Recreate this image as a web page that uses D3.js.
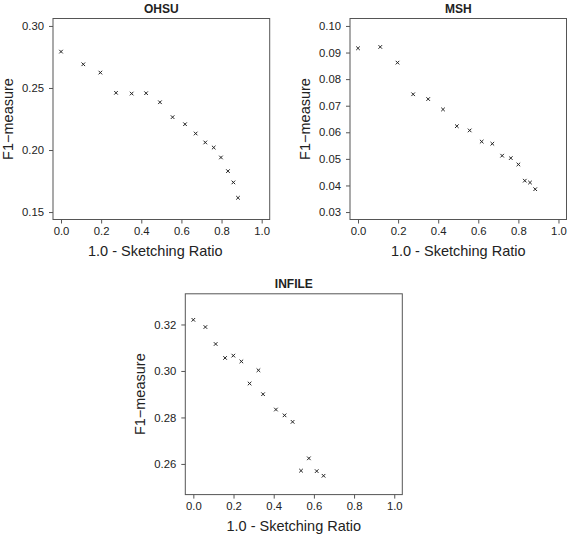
<!DOCTYPE html>
<html>
<head>
<meta charset="utf-8">
<script src="https://cdn.jsdelivr.net/npm/d3@7"></script>
<style>
  html, body { margin: 0; padding: 0; background: #fff; }
  svg { display: block; }
  text { font-family: "Liberation Sans", Arial, Helvetica, sans-serif; fill: #222; }
</style>
</head>
<body>
<svg id="chart" width="568" height="538"></svg>
<script>
// ---- data ----
const xTicks = [0.0, 0.2, 0.4, 0.6, 0.8, 1.0];
const xLabel = "1.0 - Sketching Ratio";
const yLabel = "F1\u2212measure";

const ohsuX = [0.000, 0.111, 0.196, 0.274, 0.352, 0.424, 0.493, 0.556, 0.618, 0.671, 0.719, 0.761, 0.797, 0.832, 0.859, 0.882];
const ohsuY = [0.2793, 0.2691, 0.2624, 0.2461, 0.2455, 0.2458, 0.2385, 0.2265, 0.2208, 0.2133, 0.2061, 0.2020, 0.1940, 0.1830, 0.1739, 0.1615];
const ohsuYTicks = [0.15, 0.20, 0.25, 0.30];

const mshX = [0.000, 0.111, 0.197, 0.275, 0.350, 0.424, 0.493, 0.557, 0.617, 0.670, 0.719, 0.762, 0.800, 0.832, 0.858, 0.884];
const mshY = [0.0916, 0.0921, 0.0862, 0.0743, 0.0725, 0.0686, 0.0623, 0.0607, 0.0565, 0.0557, 0.0512, 0.0503, 0.0479, 0.0418, 0.0411, 0.0386];
const mshYTicks = [0.03, 0.04, 0.05, 0.06, 0.07, 0.08, 0.09, 0.10];

const infileX = [0.000, 0.060, 0.111, 0.158, 0.199, 0.239, 0.280, 0.324, 0.347, 0.411, 0.454, 0.494, 0.536, 0.575, 0.614, 0.648];
const infileY = [0.3220, 0.3189, 0.3116, 0.3056, 0.3066, 0.3041, 0.2946, 0.3003, 0.2900, 0.2834, 0.2809, 0.2781, 0.2571, 0.2624, 0.2569, 0.2549];
const infileYTicks = [0.26, 0.28, 0.30, 0.32];

// ---- layout ----
const panels = [
  { title: "OHSU",   xs: ohsuX,   ys: ohsuY,   xlim: [0, 1], ylim: [0.15, 0.30], yTicks: ohsuYTicks,   yFmt: ".2f",
    box: { x0: 53, x1: 269.7, y0: 18.5, y1: 219.5 }, xlabShift: -6 },
  { title: "MSH",    xs: mshX,    ys: mshY,    xlim: [0, 1], ylim: [0.03, 0.10], yTicks: mshYTicks,    yFmt: ".2f",
    box: { x0: 350, x1: 566.5, y0: 18.5, y1: 219.5 }, xlabShift: 0 },
  { title: "INFILE", xs: infileX, ys: infileY, xlim: [0, 1], ylim: [0.25, 0.33], yTicks: infileYTicks, yFmt: ".2f",
    box: { x0: 185.3, x1: 402.3, y0: 293.8, y1: 494.6 }, xlabShift: 0 }
];

const svg = d3.select("#chart");
const boxColor = "#555";

function pad(lim) {
  const r = lim[1] - lim[0];
  return [lim[0] - 0.04 * r, lim[1] + 0.04 * r];
}

panels.forEach(p => {
  const b = p.box;
  const x = d3.scaleLinear().domain(pad(p.xlim)).range([b.x0, b.x1]);
  const y = d3.scaleLinear().domain(pad(p.ylim)).range([b.y1, b.y0]);
  const g = svg.append("g");

  g.append("rect")
    .attr("x", b.x0).attr("y", b.y0)
    .attr("width", b.x1 - b.x0).attr("height", b.y1 - b.y0)
    .attr("fill", "none").attr("stroke", boxColor).attr("stroke-width", 1);

  const xa = g.append("g").attr("transform", `translate(0,${b.y1})`)
    .call(d3.axisBottom(x).tickValues(xTicks).tickFormat(d3.format(".1f")).tickSize(4).tickPadding(3));
  xa.select(".domain").remove();
  xa.selectAll("line").attr("stroke", boxColor);
  xa.selectAll("text").attr("font-size", 11.3).attr("font-family", "Liberation Sans, Arial, sans-serif").attr("fill", "#222");

  const ya = g.append("g").attr("transform", `translate(${b.x0},0)`)
    .call(d3.axisLeft(y).tickValues(p.yTicks).tickFormat(d3.format(p.yFmt)).tickSize(4).tickPadding(5));
  ya.select(".domain").remove();
  ya.selectAll("line").attr("stroke", boxColor);
  ya.selectAll("text").attr("font-size", 11.3).attr("font-family", "Liberation Sans, Arial, sans-serif").attr("fill", "#222");

  g.append("text")
    .attr("x", (b.x0 + b.x1) / 2).attr("y", b.y0 - 6)
    .attr("text-anchor", "middle").attr("font-size", 12).attr("font-weight", "bold")
    .text(p.title);

  g.append("text")
    .attr("x", (b.x0 + b.x1) / 2 + p.xlabShift).attr("y", b.y1 + 36)
    .attr("text-anchor", "middle").attr("font-size", 14.5)
    .text(xLabel);

  g.append("text")
    .attr("transform", `translate(${b.x0 - 40},${(b.y0 + b.y1) / 2}) rotate(-90)`)
    .attr("text-anchor", "middle").attr("font-size", 14.5)
    .text(yLabel);

  const s = 1.8;
  g.selectAll("path.pt").data(p.xs.map((v, i) => [v, p.ys[i]])).join("path")
    .attr("class", "pt")
    .attr("d", d => {
      const cx = x(d[0]), cy = y(d[1]);
      return `M${cx - s},${cy - s}L${cx + s},${cy + s}M${cx - s},${cy + s}L${cx + s},${cy - s}`;
    })
    .attr("stroke", "#222").attr("stroke-width", 1).attr("fill", "none");
});
</script>
</body>
</html>
